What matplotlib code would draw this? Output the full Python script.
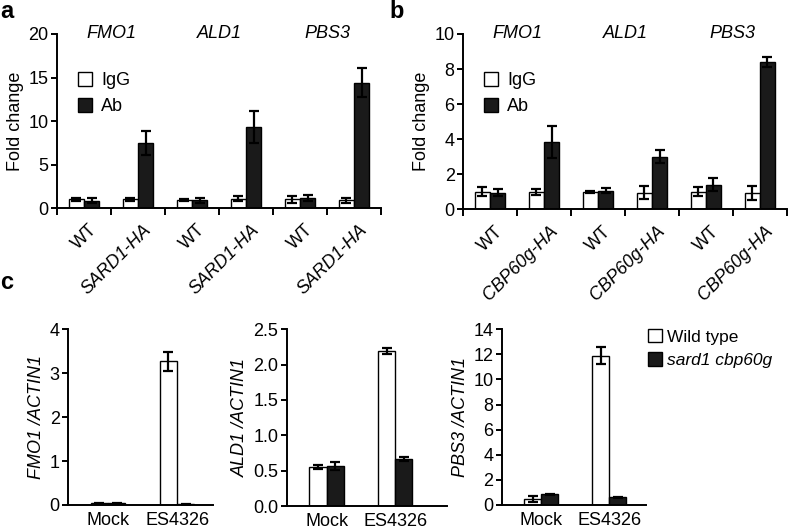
import numpy as np
import matplotlib
matplotlib.use("Agg")
import matplotlib.pyplot as plt

plt.rcParams['font.family'] = ['Liberation Sans', 'DejaVu Sans']
plt.rcParams['font.size'] = 13

# =========================
# Data
# =========================
genes = ["FMO1", "ALD1", "PBS3"]
lines_a = ["WT", "SARD1-HA"] * 3
lines_b = ["WT", "CBP60g-HA"] * 3

a_igg = [1.0, 1.0, 0.95, 1.1, 1.0, 0.9]
a_igg_err = [0.15, 0.15, 0.08, 0.3, 0.4, 0.3]
a_ab = [0.85, 7.5, 0.9, 9.3, 1.15, 14.4]
a_ab_err = [0.3, 1.4, 0.3, 1.85, 0.35, 1.65]

b_igg = [1.0, 1.0, 1.0, 0.95, 1.0, 0.95]
b_igg_err = [0.25, 0.18, 0.06, 0.35, 0.25, 0.4]
b_ab = [0.95, 3.85, 1.05, 3.0, 1.4, 8.4]
b_ab_err = [0.2, 0.9, 0.15, 0.38, 0.38, 0.3]

treatments = ["Mock", "ES4326"]
fmo1_wt, fmo1_wt_err = [0.04, 3.27], [0.01, 0.22]
fmo1_mut, fmo1_mut_err = [0.04, 0.02], [0.01, 0.01]
ald1_wt, ald1_wt_err = [0.555, 2.19], [0.03, 0.04]
ald1_mut, ald1_mut_err = [0.565, 0.67], [0.06, 0.03]
pbs3_wt, pbs3_wt_err = [0.5, 11.9], [0.25, 0.7]
pbs3_mut, pbs3_mut_err = [0.85, 0.6], [0.05, 0.05]

BLACK = "#1a1a1a"
ekw = dict(ecolor="black", elinewidth=1.6, capsize=3.5, capthick=1.6)


def style_axes(ax):
    for s in ["top", "right"]:
        ax.spines[s].set_visible(False)
    for s in ["left", "bottom"]:
        ax.spines[s].set_linewidth(1.4)
    ax.tick_params(axis="y", width=1.4, length=4, pad=2)


def chip_panel(ax, igg, igg_err, ab, ab_err, labels, ymax, yticks, legend_xy):
    x = np.arange(len(igg)) + 0.5
    w = 0.28
    bw = ax.bar(x - w / 2, igg, w, yerr=igg_err, color="white", edgecolor="black",
                linewidth=1.0, error_kw=ekw, zorder=2)
    bb = ax.bar(x + w / 2, ab, w, yerr=ab_err, color=BLACK, edgecolor="black",
                linewidth=1.0, error_kw=ekw, zorder=2)
    style_axes(ax)
    ax.set_xlim(0, len(igg))
    ax.set_ylim(0, ymax)
    ax.set_yticks(yticks)
    ax.set_xticks(np.arange(len(igg) + 1))
    ax.set_xticklabels([])
    ax.tick_params(axis="x", which="major", width=1.4, length=5)
    ax.set_xticks(x + 0.2, minor=True)
    ax.set_xticklabels(labels, minor=True, rotation=45, ha="right",
                       rotation_mode="anchor", va="center")
    ax.tick_params(axis="x", which="minor", length=0, pad=14)
    for t, lab in zip(ax.get_xticklabels(minor=True), labels):
        if lab != "WT":
            t.set_style("italic")
    for i, g in enumerate(genes):
        ax.text(2 * i + 1, ymax, g, style="italic", ha="center", va="center")
    ax.set_ylabel("Fold change", labelpad=3)
    ax.legend([bw, bb], ["IgG", "Ab"], loc="upper left", bbox_to_anchor=legend_xy,
              bbox_transform=ax.figure.transFigure, frameon=False,
              handlelength=0.8, handleheight=0.8, handletextpad=0.5,
              labelspacing=0.5, fontsize=13)


def qpcr_panel(ax, wt, wt_err, mut, mut_err, ymax, yticks, ylabel, xmax, fmt=None):
    x = np.arange(len(wt))
    w = 0.25
    bw = ax.bar(x - w / 2, wt, w, yerr=wt_err, color="white", edgecolor="black",
                linewidth=1.0, error_kw=ekw, zorder=2)
    bb = ax.bar(x + w / 2, mut, w, yerr=mut_err, color=BLACK, edgecolor="black",
                linewidth=1.0, error_kw=ekw, zorder=2)
    style_axes(ax)
    ax.set_xlim(-0.58, xmax)
    ax.set_ylim(0, ymax)
    ax.set_yticks(yticks)
    if fmt:
        ax.set_yticklabels([fmt.format(v) for v in yticks])
    ax.set_xticks(x)
    ax.set_xticklabels(treatments)
    ax.tick_params(axis="x", length=0, pad=5)
    ax.set_ylabel(ylabel, labelpad=3, style="italic")
    return bw, bb


fig = plt.figure(figsize=(7.88, 5.31), dpi=100)

ax_a = fig.add_axes([0.0723, 0.608, 0.4112, 0.328])
chip_panel(ax_a, a_igg, a_igg_err, a_ab, a_ab_err, lines_a, 20, [0, 5, 10, 15, 20],
           (0.078, 0.895))

ax_b = fig.add_axes([0.5876, 0.606, 0.411, 0.330])
chip_panel(ax_b, b_igg, b_igg_err, b_ab, b_ab_err, lines_b, 10, [0, 2, 4, 6, 8, 10],
           (0.593, 0.895))

ax_c1 = fig.add_axes([0.0863, 0.049, 0.184, 0.331])
qpcr_panel(ax_c1, fmo1_wt, fmo1_wt_err, fmo1_mut, fmo1_mut_err, 4, [0, 1, 2, 3, 4],
           "FMO1 /ACTIN1", 1.52)

ax_c2 = fig.add_axes([0.364, 0.047, 0.203, 0.333])
qpcr_panel(ax_c2, ald1_wt, ald1_wt_err, ald1_mut, ald1_mut_err, 2.5,
           [0, 0.5, 1.0, 1.5, 2.0, 2.5], "ALD1 /ACTIN1", 1.75, fmt="{:.1f}")

ax_c3 = fig.add_axes([0.637, 0.049, 0.183, 0.331])
bw, bb = qpcr_panel(ax_c3, pbs3_wt, pbs3_wt_err, pbs3_mut, pbs3_mut_err, 14,
                    [0, 2, 4, 6, 8, 10, 12, 14], "PBS3 /ACTIN1", 1.54)

leg = fig.legend([bw, bb], ["Wild type", "sard1 cbp60g"], loc="upper left",
                 bbox_to_anchor=(0.803, 0.41), frameon=False,
                 handlelength=0.8, handleheight=0.8, handletextpad=0.3,
                 labelspacing=0.45, fontsize=12.5)
leg.get_texts()[1].set_style("italic")

fig.text(0.0, 1.0, "a", fontsize=17, fontweight="bold", va="top")
fig.text(0.494, 1.0, "b", fontsize=17, fontweight="bold", va="top")
fig.text(0.0, 0.49, "c", fontsize=17, fontweight="bold", va="top")

fig.savefig("out.png", dpi=100)
